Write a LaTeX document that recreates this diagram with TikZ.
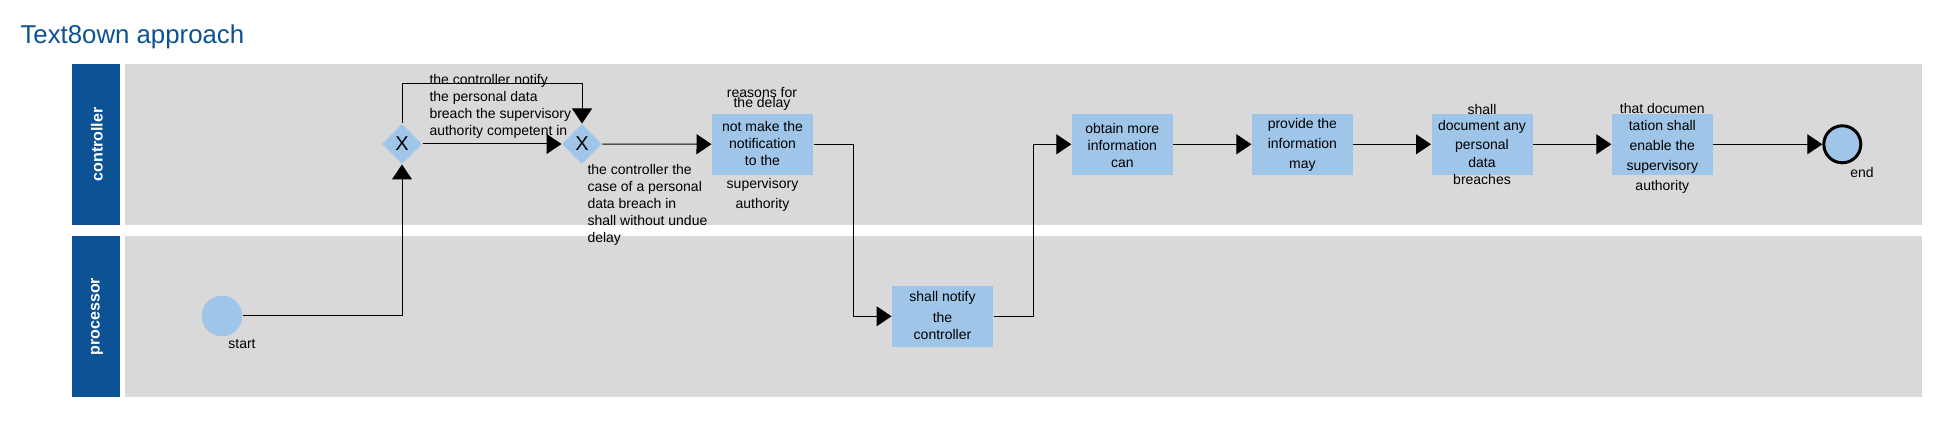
\documentclass[tikz,border=0pt]{standalone}
\usepackage{fontspec}
\setmainfont{Liberation Sans}
\usetikzlibrary{shapes.geometric,arrows.meta}
\definecolor{lanehead}{RGB}{13,82,148}
\definecolor{lanebody}{RGB}{217,217,217}
\definecolor{taskfill}{RGB}{159,197,232}
\begin{document}
\begin{tikzpicture}[x=1pt, y=-1pt, line width=1pt, >={Triangle[length=15pt,width=20pt]},
    every node/.style={inner sep=0pt, font=\fontsize{14pt}{17pt}\selectfont},
    task/.style={rectangle, fill=taskfill, minimum width=101pt, minimum height=61pt},
    gateway/.style={diamond, fill=taskfill, minimum width=40pt, minimum height=40pt, font=\fontsize{20pt}{20pt}\selectfont},
    txt/.style={align=center},
    lanetxt/.style={rotate=90, text=white, font=\bfseries\fontsize{16pt}{16pt}\selectfont}]
    \useasboundingbox (0,0) rectangle (1939,438);
    % Title
    \node[anchor=base west, text=lanehead, font=\fontsize{25.8pt}{26pt}\selectfont] (title) at (20,44) {Text8own approach};
    % Lanes
    \fill[lanehead] (72,64) rectangle (120,225);
    \fill[lanebody] (125,64) rectangle (1922,225);
    \fill[lanehead] (72,236) rectangle (120,397);
    \fill[lanebody] (125,236) rectangle (1922,397);
    \node[lanetxt] (ctrl) at (97,144.5) {controller};
    \node[lanetxt] (proc) at (97,316.5) {processor};
    % Events and gateways
    \node[circle, fill=taskfill, minimum size=40.6pt] (start) at (222,316) {};
    \node (startlbl) at (242,344) {start};
    \node[gateway] (gw1) at (402,144) {X};
    \node[gateway] (gw2) at (582,144) {X};
    \node[circle, draw, line width=3pt, fill=taskfill, minimum size=37pt] (end) at (1842.3,144.3) {};
    \node (endlbl) at (1862,172) {end};
    % Tasks
    \node[task] (t1) at (762.5,144.3) {};
    \node[task] (t2) at (942.5,316.3) {};
    \node[task] (t3) at (1122.3,144.3) {};
    \node[task] (t4) at (1302.4,144.3) {};
    \node[task] (t5) at (1482,144.3) {};
    \node[task] (t6) at (1662.3,144.3) {};
    % Texts
    \node[anchor=west, align=left] (lbl1) at (429,106.7) {the controller notify\\the personal data\\breach the supervisory\\authority competent in};
    \node[anchor=west, align=left] (lbl2) at (587,205) {the controller the\\case of a personal\\data breach in\\shall without undue\\delay};
    \node[txt] (t1top) at (762,99.3) {reasons for\\[-7pt]the delay};
    \node[txt] (t1txt) at (762.5,166.2) {not make the\\notification\\to the\\[5.6pt]supervisory\\[3pt]authority};
    \node[txt] (t2txt) at (942.5,315) {shall notify\\[4pt]the\\controller};
    \node[txt] (t3txt) at (1122.3,145) {obtain more\\information\\can};
    \node[txt] (t4txt) at (1302.4,144.8) {provide the\\[3pt]information\\[3pt]may};
    \node[txt] (t5txt) at (1482,144.7) {shall\\[-1.7pt]document any\\[2.7pt]personal\\[0.7pt]data\\breaches};
    \node[txt] (t6txt) at (1662.3,148.3) {that documen\\tation shall\\[3pt]enable the\\[3pt]supervisory\\[3pt]authority};
    % Flow
    \draw[->] (start) -| (gw1);
    \draw[->] (gw1) -- (gw2);
    \draw[->] (gw1.north) -- ++(0,-40) -| (gw2.north);
    \draw[->] (gw2) -- (t1);
    \draw[->] (t1.east) -- ++(39.5,0) |- (t2.west);
    \draw[->] (t2.east) -- ++(39.5,0) |- (t3.west);
    \draw[->] (t3) -- (t4);
    \draw[->] (t4) -- (t5);
    \draw[->] (t5) -- (t6);
    \draw[->] (t6) -- (end);
\end{tikzpicture}
\end{document}
